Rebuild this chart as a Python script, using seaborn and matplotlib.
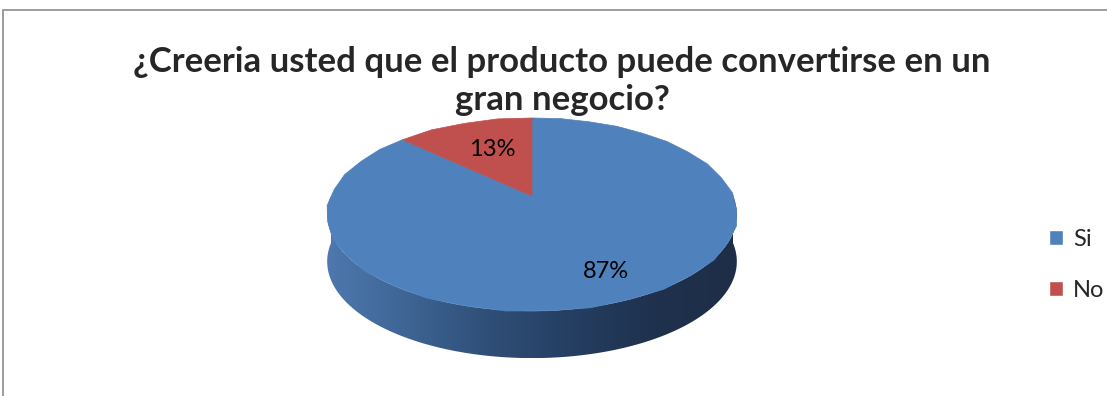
import numpy as np
import matplotlib
matplotlib.use("Agg")
import matplotlib.pyplot as plt
import seaborn as sns
from matplotlib.patches import Polygon, Rectangle
from matplotlib.colors import LinearSegmentedColormap

categories = ["Si", "No"]
values = [87, 13]
pct_labels = ["87%", "13%"]
title = "¿Creeria usted que el producto puede convertirse en un\ngran negocio?"

sns.set_theme(style="white")
plt.rcParams['font.family'] = ['Lato', 'DejaVu Sans']

W, H = 1107, 396
fig = plt.figure(figsize=(W / 100, H / 100), dpi=100)
ax = fig.add_axes([0, 0, 1, 1])

colors = ["#4F81BD", "#C0504D"]
wedges, texts = ax.pie(values, colors=colors, startangle=90, counterclock=False,
                       wedgeprops=dict(linewidth=0))
for t in texts:
    t.set_visible(False)

ax.set_aspect('auto')
ax.set_xlim(0, W)
ax.set_ylim(0, H)
ax.axis('off')

# simple perspective projection of the unit disk onto the page
cx, cy = 532, H - 196
a, b = 201, 93
c = 0.192
depth = 47


def project(uv):
    uv = np.asarray(uv, dtype=float)
    u, v = uv[:, 0], uv[:, 1]
    d = 1 + c * v
    return np.column_stack([cx + a * u / d, cy + b * v / d])


# front side of the cylinder
th = np.linspace(np.pi, 2 * np.pi, 300)
top = project(np.column_stack([np.cos(th), np.sin(th)]))
bot = top.copy()
bot[:, 1] -= depth
side = Polygon(np.vstack([top, bot[::-1]]), closed=True, facecolor='none',
               edgecolor='none', transform=ax.transData)
ax.add_patch(side)
cmap = LinearSegmentedColormap.from_list(
    "side", ["#4e78ae", "#3d6493", "#2f4e77", "#253e62", "#1f314d", "#1e2e48"])
grad = np.linspace(0, 1, 256).reshape(1, -1)
xmin, xmax = top[:, 0].min(), top[:, 0].max()
im = ax.imshow(grad, cmap=cmap, extent=[xmin, xmax, bot[:, 1].min(), top[:, 1].max()],
               aspect='auto', transform=ax.transData, zorder=1)
im.set_clip_path(side)

# top face: the pie wedges, projected
for w in wedges:
    polys = w.get_path().to_polygons(closed_only=False)
    for p in polys:
        ax.add_patch(Polygon(project(p), closed=True, facecolor=w.get_facecolor(),
                             edgecolor=w.get_facecolor(), linewidth=0.5, zorder=2))
    w.set_visible(False)

# percentage labels
label_pos = [(0.32, -0.70), (-0.22, 0.55)]
for lab, p in zip(pct_labels, label_pos):
    x, y = project([p])[0]
    ax.text(x, y, lab, ha='center', va='center', fontsize=17, color='black', zorder=3)

ax.set_xlim(0, W)
ax.set_ylim(0, H)

fig.text(562 / W, 1 - 81 / H, title, ha='center', va='center', fontsize=25,
         fontweight='bold', linespacing=1.22)

# legend
handles = [Rectangle((0, 0), 1, 1, facecolor=col) for col in colors]
fig.legend(handles, categories, loc='center left', bbox_to_anchor=(1028 / W, 1 - 265 / H),
           frameon=False, fontsize=17, handlelength=0.6, handleheight=0.6,
           labelspacing=1.25, handletextpad=0.4)

# chart border
fig.patches.append(Rectangle((3 / W, -0.1), 1.2, 1 - 10 / H + 0.1, transform=fig.transFigure,
                             fill=False, edgecolor='#8c8c8c', linewidth=1.2))

fig.savefig("out.png", dpi=100, facecolor='white')
